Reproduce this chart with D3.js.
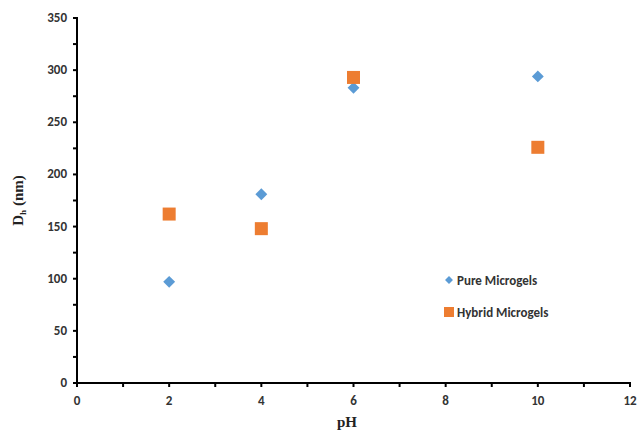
<!DOCTYPE html>
<html>
<head>
<meta charset="utf-8">
<script src="https://cdn.jsdelivr.net/npm/d3@7"></script>
<style>
    body { margin: 0; background: #fff; }
    svg { display: block; }
</style>
</head>
<body>
<svg id="chart"></svg>
<script>
// values
let phValues = [2, 4, 6, 10];
let pureMicrogels = [97, 181, 283, 294];
let hybridMicrogels = [162, 148, 293, 226];
let xTicks = [0, 2, 4, 6, 8, 10, 12];
let yTicks = [0, 50, 100, 150, 200, 250, 300, 350];

let width = 640;
let height = 431;

let svg = d3.select("#chart").attr("width", width).attr("height", height);

let x = d3.scaleLinear().domain([0, 12]).range([77, 630]);
let y = d3.scaleLinear().domain([0, 350]).range([383, 18]);

let labelFont = "Calibri, Carlito, Lato, 'Open Sans', sans-serif";

// minor ticks
svg.selectAll(".xMinor")
    .data(d3.range(0, 13, 1))
    .enter()
    .append("line")
    .attr("x1", function(d){ return x(d); })
    .attr("x2", function(d){ return x(d); })
    .attr("y1", y(0) - 1)
    .attr("y2", y(0) + 4)
    .attr("stroke", "#000")
    .attr("stroke-width", 2);

svg.selectAll(".yMinor")
    .data(d3.range(0, 351, 25))
    .enter()
    .append("line")
    .attr("x1", x(0) - 4)
    .attr("x2", x(0) + 1)
    .attr("y1", function(d){ return y(d); })
    .attr("y2", function(d){ return y(d); })
    .attr("stroke", "#000")
    .attr("stroke-width", 2);

// axis lines
svg.append("line")
    .attr("x1", x(0)).attr("x2", x(12))
    .attr("y1", y(0)).attr("y2", y(0))
    .attr("stroke", "#000").attr("stroke-width", 2);
svg.append("line")
    .attr("x1", x(0)).attr("x2", x(0))
    .attr("y1", y(0)).attr("y2", y(350))
    .attr("stroke", "#000").attr("stroke-width", 2);

// tick labels
svg.selectAll(".xLabel")
    .data(xTicks)
    .enter()
    .append("text")
    .attr("x", function(d){ return x(d); })
    .attr("y", y(0) + 22)
    .attr("text-anchor", "middle")
    .attr("font-family", labelFont)
    .attr("font-weight", "bold")
    .attr("font-size", 13)
    .attr("fill", "#333")
    .text(function(d){ return d; });

svg.selectAll(".yLabel")
    .data(yTicks)
    .enter()
    .append("text")
    .attr("x", x(0) - 10)
    .attr("y", function(d){ return y(d) + 4; })
    .attr("text-anchor", "end")
    .attr("font-family", labelFont)
    .attr("font-weight", "bold")
    .attr("font-size", 13)
    .attr("fill", "#333")
    .text(function(d){ return d; });

// axis titles
svg.append("text")
    .attr("x", 347)
    .attr("y", 427)
    .attr("text-anchor", "middle")
    .attr("font-family", "'Liberation Serif', 'Times New Roman', serif")
    .attr("font-weight", "bold")
    .attr("font-size", 15)
    .attr("fill", "#222")
    .text("pH");

let yTitle = svg.append("text")
    .attr("transform", "translate(23," + y(175) + ") rotate(-90)")
    .attr("text-anchor", "middle")
    .attr("font-family", "'Liberation Serif', 'Times New Roman', serif")
    .attr("font-weight", "bold")
    .attr("font-size", 15)
    .attr("fill", "#222");
yTitle.append("tspan").text("D");
yTitle.append("tspan").attr("font-size", 9).attr("dy", 3).text("h");
yTitle.append("tspan").attr("dy", -3).text(" (nm)");

// points
let diamond = d3.symbol().type(d3.symbolDiamond2).size(90);

svg.selectAll(".pure")
    .data(phValues)
    .enter()
    .append("path")
    .attr("d", diamond)
    .attr("transform", function(d, i){ return "translate(" + x(d) + "," + y(pureMicrogels[i]) + ")"; })
    .attr("fill", "#5B9BD5");

svg.selectAll(".hybrid")
    .data(phValues)
    .enter()
    .append("rect")
    .attr("x", function(d){ return x(d) - 6.5; })
    .attr("y", function(d, i){ return y(hybridMicrogels[i]) - 6.5; })
    .attr("width", 13)
    .attr("height", 13)
    .attr("fill", "#ED7D31");

// legend
svg.append("path")
    .attr("d", d3.symbol().type(d3.symbolDiamond2).size(40))
    .attr("transform", "translate(449,280)")
    .attr("fill", "#5B9BD5");
svg.append("rect")
    .attr("x", 444).attr("y", 307)
    .attr("width", 10).attr("height", 10)
    .attr("fill", "#ED7D31");

svg.append("text")
    .attr("x", 457).attr("y", 285)
    .attr("font-family", labelFont)
    .attr("font-weight", "bold")
    .attr("font-size", 13)
    .attr("fill", "#333")
    .text("Pure Microgels");
svg.append("text")
    .attr("x", 457).attr("y", 317)
    .attr("font-family", labelFont)
    .attr("font-weight", "bold")
    .attr("font-size", 13)
    .attr("fill", "#333")
    .text("Hybrid Microgels");
</script>
</body>
</html>
